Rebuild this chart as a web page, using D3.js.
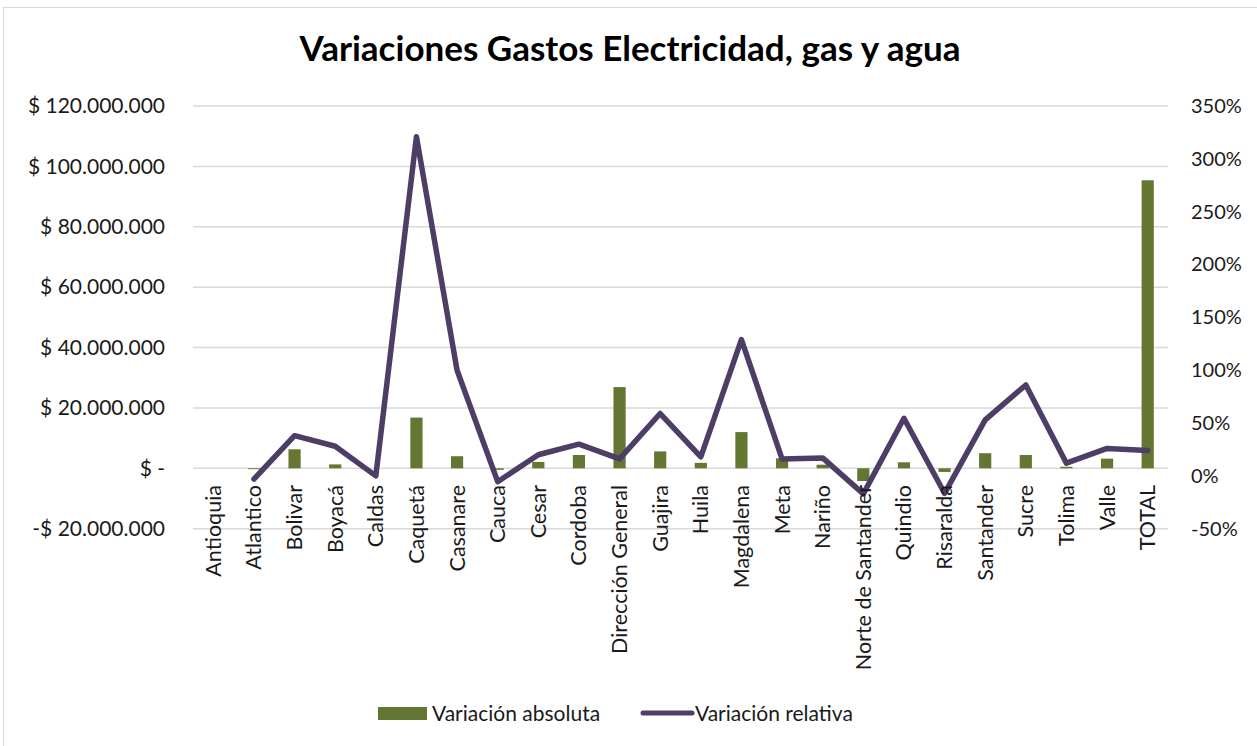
<!DOCTYPE html>
<html><head><meta charset="utf-8">
<script src="https://cdn.jsdelivr.net/npm/d3@7"></script>
<style>body{margin:0;background:#fff}svg{display:block}</style>
</head><body>
<script>
const categories = ["Antioquia","Atlantico","Bolivar","Boyacá","Caldas","Caquetá","Casanare","Cauca","Cesar","Cordoba","Dirección General","Guajira","Huila","Magdalena","Meta","Nariño","Norte de Santander","Quindio","Risaralda","Santander","Sucre","Tolima","Valle","TOTAL"];
const variacionAbsoluta = [0,-300000,6300000,1300000,0,16800000,4000000,-500000,2100000,4400000,26900000,5600000,1800000,12000000,3300000,1200000,-4200000,2000000,-1200000,5000000,4400000,500000,3200000,95400000];
const variacionRelativa = [null,-0.03,0.38,0.28,0.0,3.21,1.00,-0.055,0.20,0.30,0.16,0.59,0.18,1.29,0.16,0.17,-0.17,0.545,-0.165,0.53,0.86,0.12,0.26,0.24];
const leftTicks = [-20000000,0,20000000,40000000,60000000,80000000,100000000,120000000];
const rightTicks = [-0.5,0,0.5,1,1.5,2,2.5,3,3.5];
const seriesNames = ["Variación absoluta","Variación relativa"];
const titleText = "Variaciones Gastos Electricidad, gas y agua";

const W=1257,H=746;
const FONT="Lato, 'Open Sans', sans-serif";
const GREEN="#637632", PURPLE="#4e3d66";
const svg=d3.select("body").append("svg").attr("width",W).attr("height",H);
svg.append("rect").attr("x",3.5).attr("y",7.5).attr("width",W+10).attr("height",H+10)
  .attr("fill","#fff").attr("stroke","#d9d9d9").attr("stroke-width",1);

const x=d3.scaleBand().domain(categories).range([193,1168]).padding(0);
const yL=d3.scaleLinear().domain([-20000000,120000000]).range([528.7,106]);
const yR=d3.scaleLinear().domain([-0.5,3.5]).range([528.7,106]);

// gridlines
svg.append("g").selectAll("line").data(leftTicks).join("line")
  .attr("x1",193).attr("x2",1168).attr("y1",d=>yL(d)).attr("y2",d=>yL(d))
  .attr("stroke","#d9d9d9").attr("stroke-width",1.5);

const fmtMoney=d=>{ if(d===0) return "$ -"; const s=d3.format(",")(Math.abs(d)).replace(/,/g,"."); return (d<0?"-":"")+"$ "+s; };
// left axis
const gl=svg.append("g")
  .call(d3.axisLeft(yL).tickValues(leftTicks).tickFormat(fmtMoney).tickSize(0).tickPadding(0));
gl.select(".domain").remove();
gl.selectAll("text").attr("x",165).attr("font-family",FONT).attr("font-size",21).attr("fill","#1a1a1a");
// right axis
const gr=svg.append("g")
  .call(d3.axisRight(yR).tickValues(rightTicks).tickFormat(d=>Math.round(d*100)+"%").tickSize(0).tickPadding(0));
gr.select(".domain").remove();
gr.selectAll("text").attr("x",1191).attr("font-family",FONT).attr("font-size",20).attr("fill","#1a1a1a");

// bars
const bw=x.bandwidth()*0.3;
svg.append("g").selectAll("rect").data(categories).join("rect")
  .attr("x",d=>x(d)+x.bandwidth()/2-bw/2).attr("width",bw)
  .attr("y",(d,i)=>yL(Math.max(0,variacionAbsoluta[i])))
  .attr("height",(d,i)=>Math.abs(yL(variacionAbsoluta[i])-yL(0)))
  .attr("fill",GREEN);

// line
const line=d3.line().defined(d=>d.v!==null).x(d=>x(d.c)+x.bandwidth()/2).y(d=>yR(d.v));
svg.append("path").datum(categories.map((c,i)=>({c,v:variacionRelativa[i]})))
  .attr("d",line).attr("fill","none").attr("stroke",PURPLE).attr("stroke-width",5.5)
  .attr("stroke-linejoin","round").attr("stroke-linecap","round");

// x labels
svg.append("g").selectAll("text").data(categories).join("text")
  .attr("transform",d=>`translate(${x(d)+x.bandwidth()/2},485) rotate(-90)`)
  .attr("dy","0.35em").attr("text-anchor","end")
  .attr("font-family",FONT).attr("font-size",21.5).attr("fill","#1a1a1a").text(d=>d);

// title
svg.append("text").attr("x",630).attr("y",61).attr("text-anchor","middle")
  .attr("font-family",FONT).attr("font-weight","bold").attr("font-size",35).attr("fill","#000").text(titleText);

// legend
const lg=svg.append("g");
lg.append("rect").attr("x",378).attr("y",707).attr("width",49).attr("height",13).attr("fill",GREEN);
lg.append("text").attr("x",432).attr("y",721).attr("font-family",FONT).attr("font-size",21).attr("fill","#1a1a1a").text(seriesNames[0]);
lg.append("line").attr("x1",643).attr("x2",692).attr("y1",713).attr("y2",713).attr("stroke",PURPLE).attr("stroke-width",5).attr("stroke-linecap","round");
lg.append("text").attr("x",695).attr("y",721).attr("font-family",FONT).attr("font-size",21).attr("fill","#1a1a1a").text(seriesNames[1]);
</script>
</body></html>
